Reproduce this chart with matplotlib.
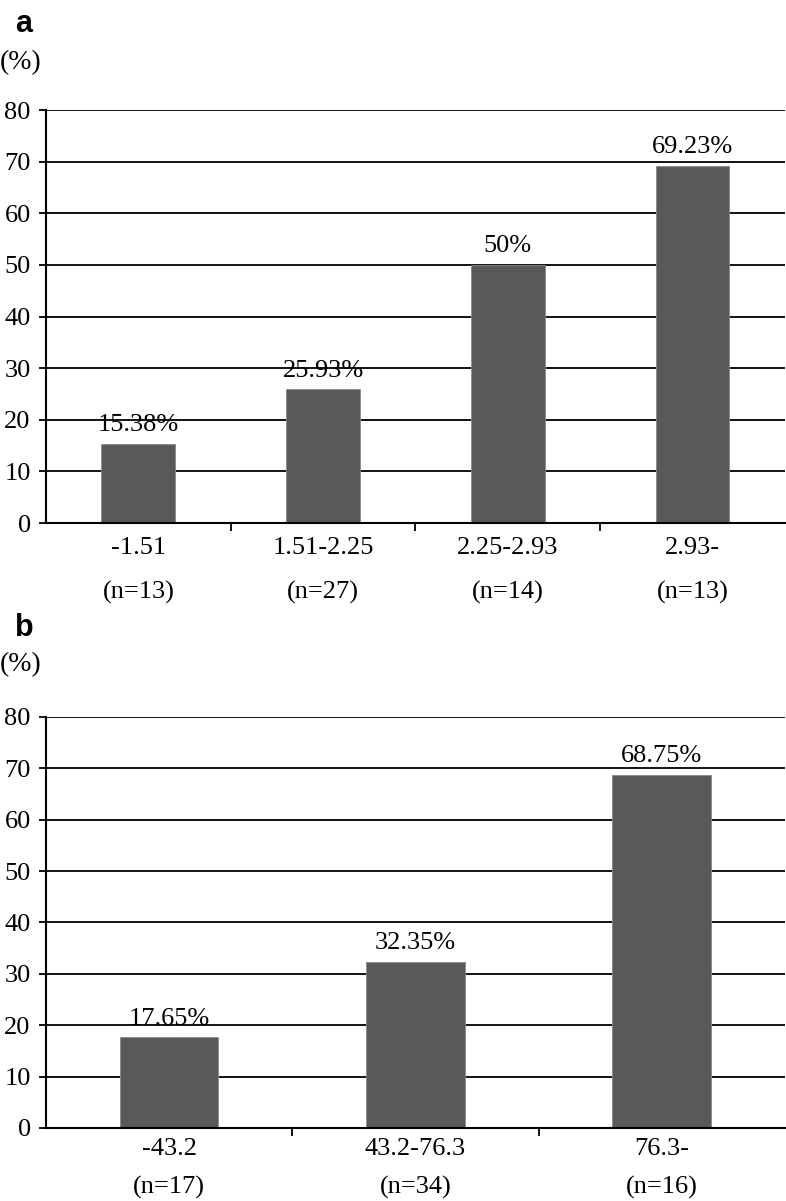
import matplotlib.pyplot as plt

# panel a
cats_a = ['-1.51', '1.51-2.25', '2.25-2.93', '2.93-']
n_a = [13, 27, 14, 13]
vals_a = [15.38, 25.93, 50, 69.23]
lbl_a = ['15.38%', '25.93%', '50%', '69.23%']

# panel b
cats_b = ['-43.2', '43.2-76.3', '76.3-']
n_b = [17, 34, 16]
vals_b = [17.65, 32.35, 68.75]
lbl_b = ['17.65%', '32.35%', '68.75%']

plt.rcParams['font.family'] = ['Liberation Serif', 'DejaVu Serif']
FS = 19

fig = plt.figure(figsize=(7.86, 12.01), dpi=100)


def draw(ax, cats, ns, vals, lbls, y1, y2):
    x = list(range(len(cats)))
    ax.set_xlim(-0.5, len(cats) - 0.5)
    ax.set_ylim(0, 80)
    for y in range(10, 90, 10):
        ax.axhline(y, color='black', lw=1.3, zorder=1)
    ax.bar(x, vals, width=0.4, color='#595959', edgecolor='#8a8a8a', lw=0.6, zorder=2)
    for xi, v, t in zip(x, vals, lbls):
        ax.annotate(t, (xi, v), xytext=(0, 9), textcoords='offset points',
                    ha='center', va='baseline', fontsize=FS)
    for s in ['top', 'right']:
        ax.spines[s].set_visible(False)
    for s in ['left', 'bottom']:
        ax.spines[s].set_linewidth(1.5)
    ax.set_yticks(range(0, 90, 10))
    ax.tick_params(axis='y', labelsize=FS, length=5, width=1.3, pad=6)
    # category boundaries as ticks
    ax.set_xticks([i + 0.5 for i in x[:-1]])
    ax.set_xticklabels([])
    ax.tick_params(axis='x', length=6, width=1.3)
    for xi, c, n in zip(x, cats, ns):
        ax.text(xi, y1, c, transform=ax.get_xaxis_transform(),
                ha='center', va='center', fontsize=FS)
        ax.text(xi, y2, '(n=%d)' % n, transform=ax.get_xaxis_transform(),
                ha='center', va='center', fontsize=FS)


ax1 = fig.add_axes([0.0585, 0.5645, 0.94, 0.3439])
draw(ax1, cats_a, n_a, vals_a, lbl_a, -0.061, -0.167)
ax2 = fig.add_axes([0.0585, 0.0608, 0.94, 0.3422])
draw(ax2, cats_b, n_b, vals_b, lbl_b, -0.052, -0.145)

fig.text(0.019, 0.980, 'a', family='Liberation Sans', fontweight='bold', fontsize=22, va='center')
fig.text(0.0, 0.948, '(%)', fontsize=20, va='center')
fig.text(0.019, 0.477, 'b', family='Liberation Sans', fontweight='bold', fontsize=22, va='center')
fig.text(0.0, 0.447, '(%)', fontsize=20, va='center')

fig.savefig('out.png', dpi=100)
